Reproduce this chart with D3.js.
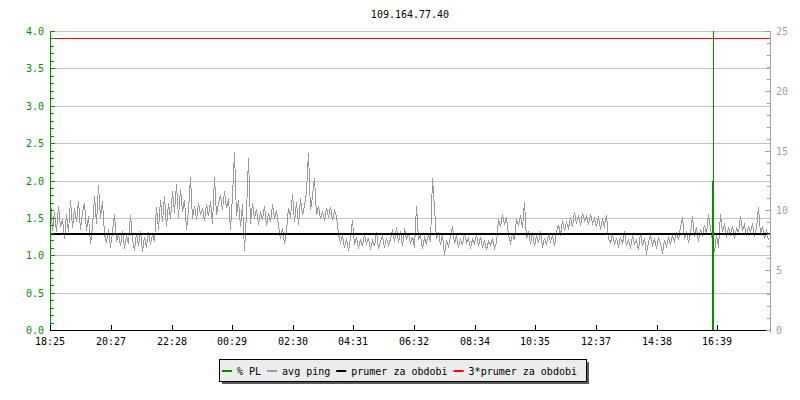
<!DOCTYPE html>
<html><head><meta charset="utf-8">
<script src="https://cdn.jsdelivr.net/npm/d3@7"></script>
<style>
body{margin:0;background:#fff;}
text{font-family:"DejaVu Sans Mono","Liberation Mono",monospace;font-size:10px;}
</style></head><body>
<svg id="chart" width="800" height="400"></svg>
<script>
// ---------- data ----------
const title = "109.164.77.40";
const startTime = "18:25";
const spanHours = 24;
const xTickLabels = ["18:25","20:27","22:28","00:29","02:30","04:31","06:32","08:34","10:35","12:37","14:38","16:39"];
const leftTickLabels = ["0.0","0.5","1.0","1.5","2.0","2.5","3.0","3.5","4.0"];
const leftTickValues = [0,0.5,1,1.5,2,2.5,3,3.5,4];
const rightTickValues = [0,5,10,15,20,25];
const pingStepMin = 4;          // minutes between samples
const avgPing = [               // ms
 10.9,8.3,9.9,8.2,10.4,8.6,9.3,7.6,9.7,8.2,
 10.9,8.5,10.2,9.0,10.8,8.4,9.8,10.6,8.3,9.5,
 7.2,8.6,11.2,8.9,12.1,9.4,10.8,8.0,7.3,8.4,
 6.9,8.2,9.7,7.4,8.0,7.0,8.3,6.8,7.9,7.2,
 9.6,7.6,6.6,8.1,7.0,8.3,6.5,7.8,6.9,8.2,
 7.1,8.0,7.4,10.3,8.4,10.9,9.0,11.2,8.6,10.6,
 9.3,11.6,9.8,12.2,9.4,11.8,9.9,10.9,8.4,10.0,
 12.8,9.3,10.4,9.2,10.6,9.6,10.2,9.1,10.5,9.5,
 10.8,8.9,12.8,9.6,10.6,11.3,10.0,11.6,10.2,11.0,
 8.4,11.2,14.9,9.5,10.9,8.6,10.5,6.6,9.8,14.4,
 8.9,10.6,9.3,10.1,8.8,9.9,9.2,10.4,8.7,9.8,
 9.0,10.5,9.3,10.0,8.7,7.6,8.5,7.2,8.3,10.2,
 9.4,11.4,9.0,10.7,8.8,11.0,9.6,10.4,11.6,14.8,
 10.0,11.2,12.7,9.6,10.4,9.3,9.9,9.1,10.2,9.4,
 10.3,9.2,10.0,9.5,8.0,7.3,7.9,6.9,7.6,6.6,
 7.7,9.2,7.1,7.8,6.8,7.6,7.0,8.0,7.2,7.7,
 6.7,7.5,7.0,8.2,6.8,7.4,7.9,6.9,7.7,7.1,
 7.6,8.4,7.4,8.6,7.3,8.3,7.0,8.5,7.5,8.1,
 7.2,7.8,6.9,10.4,7.6,7.9,6.8,7.7,7.2,8.0,
 7.4,12.7,10.2,7.6,8.2,7.1,8.0,6.3,7.5,7.0,
 7.8,8.7,7.2,7.9,6.9,7.6,7.1,8.1,7.3,7.7,
 6.8,7.6,7.2,8.0,7.0,7.8,6.9,7.5,6.7,7.4,
 7.1,7.6,6.8,7.3,9.3,8.6,9.7,8.8,9.4,7.9,
 7.3,8.0,7.5,9.3,8.7,9.6,8.5,10.7,7.6,8.3,
 7.2,8.2,7.0,7.9,7.3,8.3,6.9,7.7,7.1,8.0,
 7.4,7.9,7.0,8.2,8.8,7.9,9.2,8.3,9.0,8.5,
 9.4,8.6,9.9,8.9,9.6,8.7,9.8,9.1,9.5,8.8,
 9.7,8.9,9.3,8.6,9.5,8.4,9.2,8.7,9.6,7.6,
 7.3,8.0,7.1,7.7,6.9,7.8,7.2,8.3,7.0,7.6,
 6.8,7.9,7.2,7.5,6.7,8.1,7.0,7.7,6.3,7.4,
 7.9,7.1,7.6,6.8,7.8,7.2,6.4,7.5,7.0,7.7,
 7.2,7.9,7.4,8.2,7.5,8.6,9.4,7.6,8.3,7.3,
 8.1,9.5,7.8,8.6,7.4,8.4,7.9,8.8,8.0,9.7,
 8.5,7.4,6.5,8.0,6.9,9.7,8.2,8.9,7.7,8.6,
 8.0,8.7,7.6,8.5,8.1,9.5,8.3,8.8,7.9,8.6,
 8.2,8.9,7.8,8.5,10.3,8.0,8.7,7.6,8.4,7.5
];
const prumer = 8.05;       // ms, average over the period
const prumer3 = 24.4;      // ms, as drawn
const plTime = "16:31";
const plValue = 2.0;       // % packet loss
const legendLabels = ["% PL","avg ping","prumer za obdobi","3*prumer za obdobi"];

// ---------- styles ----------
const GREEN = "#009000", GRAY = "#999999", GRID = "#c4c4c4", RAXIS = "#a0a0a0", RED = "#ff0000";
const legendColors = [GREEN, GRAY, "#000000", RED];

const svg = d3.select("#chart");
const L = 50, R = 770, T = 31, B = 330;

function toDate(s){
  const [h,m] = s.split(":").map(Number);
  const [sh,sm] = startTime.split(":").map(Number);
  let d = new Date(2000,0,1,h,m);
  if (h*60+m < sh*60+sm) d = d3.timeDay.offset(d,1);
  return d;
}
const t0 = toDate(startTime), t1 = d3.timeHour.offset(t0, spanHours);
const x = d3.scaleTime().domain([t0,t1]).range([L,R]);
const yL = d3.scaleLinear().domain([0,4]).range([B,T]);
const yR = d3.scaleLinear().domain([0,25]).range([B,T]);
const px = v => Math.round(v) + 0.5;

// title
svg.append("text").attr("x",(L+R)/2).attr("y",17.5).attr("text-anchor","middle").attr("fill","#000").text(title);

// grid lines
svg.append("g").selectAll("line").data(leftTickValues.filter(v=>v>0)).join("line")
  .attr("x1",L+1).attr("x2",R).attr("y1",d=>px(yL(d))).attr("y2",d=>px(yL(d)))
  .attr("stroke",GRID).attr("shape-rendering","crispEdges");

// clip
svg.append("clipPath").attr("id","clip").append("rect")
  .attr("x",L+1).attr("y",T).attr("width",R-L-1).attr("height",B-T);
const plot = svg.append("g").attr("clip-path","url(#clip)");

// avg ping line
const pingData = avgPing.map((v,i)=>({t:d3.timeMinute.offset(t0,i*pingStepMin), v}));
plot.append("path").datum(pingData)
  .attr("fill","none").attr("stroke",GRAY).attr("stroke-width",1)
  .attr("shape-rendering","crispEdges")
  .attr("d", d3.line().x(d=>px(x(d.t))).y(d=>yR(d.v)));

// average lines
plot.append("line").attr("x1",L).attr("x2",R).attr("y1",yR(prumer)).attr("y2",yR(prumer))
  .attr("stroke","#000").attr("stroke-width",2).attr("shape-rendering","crispEdges");
plot.append("line").attr("x1",L).attr("x2",R).attr("y1",px(yR(prumer3))).attr("y2",px(yR(prumer3)))
  .attr("stroke",RED).attr("stroke-width",1).attr("shape-rendering","crispEdges");

// % PL
const plX = Math.round(x(toDate(plTime)));
plot.append("line").attr("x1",plX+0.5).attr("x2",plX+0.5).attr("y1",T).attr("y2",B)
  .attr("stroke",GREEN).attr("stroke-width",1).attr("shape-rendering","crispEdges");
plot.append("path").datum([{t:toDate(plTime),v:0},{t:toDate(plTime),v:plValue}])
  .attr("fill","none").attr("stroke",GREEN).attr("stroke-width",2).attr("shape-rendering","crispEdges")
  .attr("d", d3.line().x(d=>Math.round(x(d.t))).y(d=>yL(d.v)));

// left axis (green)
const gl = svg.append("g").attr("shape-rendering","crispEdges");
gl.append("line").attr("x1",L+0.5).attr("x2",L+0.5).attr("y1",T).attr("y2",B+1).attr("stroke",GREEN);
const minorL = d3.range(0,41).map(i=>i/10);
gl.selectAll("line.tk").data(minorL).join("line").attr("class","tk")
  .attr("x1",L+1).attr("x2",(d,i)=> i%5===0 ? L+5 : L+4)
  .attr("y1",d=>px(yL(d))).attr("y2",d=>px(yL(d))).attr("stroke",GREEN);
svg.append("g").selectAll("text").data(leftTickValues).join("text")
  .attr("x",44).attr("y",d=>Math.round(yL(d))+4).attr("text-anchor","end").attr("fill",GREEN)
  .text((d,i)=>leftTickLabels[i]);

// right axis (gray)
const gr = svg.append("g").attr("shape-rendering","crispEdges");
gr.append("line").attr("x1",R+0.5).attr("x2",R+0.5).attr("y1",T).attr("y2",B+3).attr("stroke",RAXIS);
gr.selectAll("line.tk").data(d3.range(0,26)).join("line").attr("class","tk")
  .attr("x1",d=> d%5===0 ? R-5 : R-3).attr("x2",R)
  .attr("y1",d=>px(yR(d))).attr("y2",d=>px(yR(d))).attr("stroke",RAXIS);
svg.append("g").selectAll("text").data(rightTickValues).join("text")
  .attr("x",R+6).attr("y",d=>Math.round(yR(d))+4).attr("fill",RAXIS).text(d=>d);

// bottom axis
const gb = svg.append("g").attr("shape-rendering","crispEdges");
gb.append("line").attr("x1",L).attr("x2",R-4).attr("y1",B+0.5).attr("y2",B+0.5).attr("stroke","#000");
gb.selectAll("line.tk").data(xTickLabels).join("line").attr("class","tk")
  .attr("x1",d=>px(x(toDate(d)))).attr("x2",d=>px(x(toDate(d))))
  .attr("y1",B-5).attr("y2",B).attr("stroke","#000");
svg.append("g").selectAll("text").data(xTickLabels).join("text")
  .attr("x",d=>Math.round(x(toDate(d)))).attr("y",345).attr("text-anchor","middle").attr("fill","#000").text(d=>d);

// legend
const lg = svg.append("g");
const shadow = lg.append("rect").attr("fill","#5a5a5a").attr("shape-rendering","crispEdges");
const box = lg.append("rect").attr("fill","#ececec").attr("stroke","#000").attr("shape-rendering","crispEdges");
let cx = 222;
const items = [];
legendLabels.forEach((lab,i)=>{
  lg.append("rect").attr("x",cx).attr("y",370).attr("width",10).attr("height",2).attr("fill",legendColors[i]);
  const t = lg.append("text").attr("x",cx+15).attr("y",375).attr("fill","#000").text(lab);
  const w = t.node().getComputedTextLength();
  cx += 15 + w + 6;
});
const bx = 219.5, by = 359.5, bw = Math.round(cx - 6 + 9 - 219), bh = 22;
shadow.attr("x",bx+2).attr("y",by+2).attr("width",bw+0.5).attr("height",bh+0.5);
box.attr("x",bx).attr("y",by).attr("width",bw).attr("height",bh);
</script>
</body></html>
